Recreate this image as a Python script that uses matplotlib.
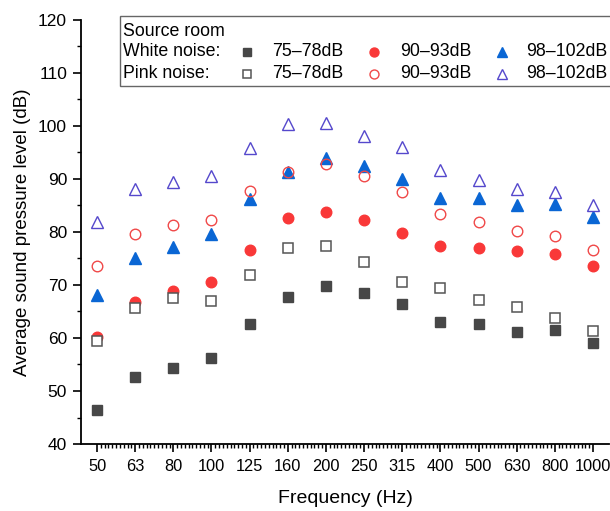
import matplotlib
matplotlib.use("Agg")
import matplotlib.pyplot as plt
from matplotlib.patches import Rectangle
from matplotlib.lines import Line2D
from matplotlib.ticker import MultipleLocator, FixedLocator

plt.rcParams['font.family'] = ['Liberation Sans', 'DejaVu Sans']

freqs = ["50", "63", "80", "100", "125", "160", "200", "250", "315", "400", "500", "630", "800", "1000"]

white_75_78 = [46.4, 52.6, 54.4, 56.3, 62.6, 67.7, 69.8, 68.4, 66.4, 63.0, 62.6, 61.2, 61.6, 59.1]
white_90_93 = [60.1, 66.7, 68.9, 70.6, 76.6, 82.6, 83.7, 82.3, 79.9, 77.4, 77.0, 76.4, 75.8, 73.6]
white_98_102 = [68.1, 75.0, 77.2, 79.6, 86.2, 91.3, 94.0, 92.5, 90.0, 86.5, 86.4, 85.0, 85.3, 82.9]
pink_75_78 = [59.5, 65.7, 67.5, 67.0, 71.9, 77.0, 77.4, 74.3, 70.6, 69.5, 67.2, 65.9, 63.7, 61.4]
pink_90_93 = [73.5, 79.6, 81.3, 82.3, 87.7, 91.4, 92.8, 90.6, 87.6, 83.4, 81.9, 80.2, 79.3, 76.6]
pink_98_102 = [81.9, 88.2, 89.4, 90.6, 95.8, 100.4, 100.6, 98.2, 96.1, 91.7, 89.8, 88.1, 87.6, 85.0]

level_labels = ["75–78dB", "90–93dB", "98–102dB"]

fig = plt.figure(figsize=(6.10, 5.11), dpi=100)
ax = fig.add_axes([81/610, (511-444)/511, (609-81)/610, (444-20)/511])

x = list(range(len(freqs)))
gray = "#474747"
red = "#f93838"
red_open = "#f04848"
blue = "#0a66d4"
purple = "#5548cc"

styles = [
    (white_75_78, dict(marker='s', ms=6.8, mfc=gray, mec=gray)),
    (white_90_93, dict(marker='o', ms=7.6, mfc=red, mec=red)),
    (white_98_102, dict(marker='^', ms=8.2, mfc=blue, mec=blue)),
    (pink_75_78, dict(marker='s', ms=6.8, mfc='white', mec='#555555', mew=1.1)),
    (pink_90_93, dict(marker='o', ms=7.6, mfc='none', mec=red_open, mew=1.0)),
    (pink_98_102, dict(marker='^', ms=8.2, mfc='none', mec=purple, mew=1.0)),
]
for vals, st in styles:
    ax.plot(x, vals, linestyle='none', **st)

ax.set_xlim(-0.42, 13.42)
ax.set_ylim(40, 120)
ax.set_xticks(x)
ax.set_xticklabels(freqs)
ax.xaxis.set_minor_locator(FixedLocator([i + k/10 for i in range(13) for k in range(1, 10)]))
ax.yaxis.set_major_locator(MultipleLocator(10))
ax.yaxis.set_minor_locator(MultipleLocator(5))
ax.spines['top'].set_visible(False)
ax.spines['right'].set_visible(False)
for s in ['left', 'bottom']:
    ax.spines[s].set_linewidth(1.3)
ax.tick_params(axis='both', which='major', direction='out', length=6, width=1.2)
ax.tick_params(axis='both', which='minor', direction='out', length=3, width=1.0)
ax.tick_params(axis='x', which='major', labelsize=11.8, pad=5)
ax.tick_params(axis='y', which='major', labelsize=12.5, pad=4)
ax.set_xlabel("Frequency (Hz)", fontsize=14, labelpad=11)
ax.set_ylabel("Average sound pressure level (dB)", fontsize=13.5, labelpad=5)

# Legend box (figure-pixel layout)
W, H = 610, 511
def fx(px):
    return px / W
def fy(py):
    return 1 - py / H

fig.patches.append(Rectangle((fx(120.5), fy(86)), fx(640) - fx(120.5), fy(16.5) - fy(86),
                             transform=fig.transFigure, fill=True, facecolor='white',
                             edgecolor='#666666', lw=1.0))
fs = 12.8
fig.text(fx(123), fy(31), "Source room", fontsize=fs, va='center', ha='left')
rows = [(52, "White noise:", styles[0:3]), (74, "Pink noise:", styles[3:6])]
mx = [246.5, 374, 501.5]
tx = [272.5, 400, 526.5]
for ry, name, sts in rows:
    fig.text(fx(123), fy(ry), name, fontsize=fs, va='center', ha='left')
    for j, (vals, st) in enumerate(sts):
        st2 = dict(st)
        st2['ms'] = st['ms'] * 0.85
        fig.lines.append(Line2D([fx(mx[j])], [fy(ry)], transform=fig.transFigure,
                                linestyle='none', **st2))
        fig.text(fx(tx[j]), fy(ry), level_labels[j], fontsize=fs, va='center', ha='left')

fig.savefig("out.png", dpi=100)
